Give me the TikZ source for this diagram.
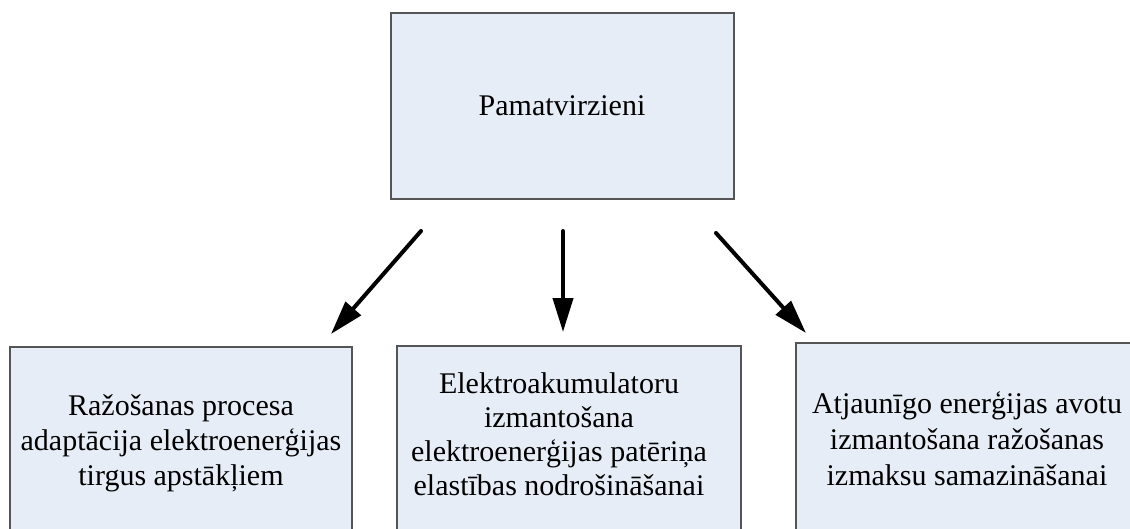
\documentclass[tikz,border=0pt]{standalone}
\usepackage{fontspec}
\setmainfont{Liberation Serif}
\usetikzlibrary{arrows.meta}
\definecolor{boxfill}{RGB}{231,237,247}
\definecolor{boxline}{RGB}{85,85,85}
\tikzset{
  box/.style={draw=boxline, line width=1.4pt, fill=boxfill},
  lbl/.style={align=center, inner sep=0pt, font=\fontsize{30}{35}\selectfont},
  conn/.style={line width=4pt, line cap=round, -{Triangle[length=34pt,width=20pt]}}
}
\begin{document}
\begin{tikzpicture}[x=1pt,y=-1pt]
\useasboundingbox (0,0) rectangle (1130,528);
\clip (0,0) rectangle (1130,528);
\fill[white] (0,0) rectangle (1130,528);
% boxes
\draw[box] (391,13) rectangle (734,199);
\draw[box] (10,347) rectangle (352,560);
\draw[box] (397,346) rectangle (741,560);
\draw[box] (796,343) rectangle (1150,560);
% labels
\node[lbl] (top) at (562,106) {Pamatvirzieni};
\node[lbl] (left) at (181,443) {Ražošanas procesa\\adaptācija elektroenerģijas\\tirgus apstākļiem};
\node[lbl, font=\fontsize{30}{34}\selectfont] (mid) at (559,434) {Elektroakumulatoru\\izmantošana\\elektroenerģijas patēriņa\\elastības nodrošināšanai};
\node[lbl, font=\fontsize{30}{36}\selectfont] (right) at (967,439) {Atjaunīgo enerģijas avotu\\izmantošana ražošanas\\izmaksu samazināšanai};
% arrow ends
\coordinate (a1s) at (421,231);
\coordinate (a1e) at (331,334);
\coordinate (a2s) at (563,231);
\coordinate (a2e) at (563,332);
\coordinate (a3s) at (716,233);
\coordinate (a3e) at (806,333);
\draw[conn] (a1s) -- (a1e);
\draw[conn] (a2s) -- (a2e);
\draw[conn] (a3s) -- (a3e);
\end{tikzpicture}
\end{document}
